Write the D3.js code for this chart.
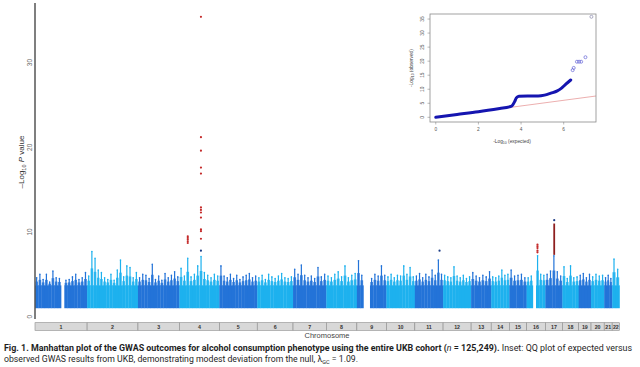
<!DOCTYPE html>
<html><head><meta charset="utf-8">
<script src="https://cdn.jsdelivr.net/npm/d3@7/dist/d3.min.js"></script>
<style>body{margin:0;background:#fff}svg{display:block}</style>
</head><body>
<svg id="chart" width="640" height="367"></svg>
<script>
// ---------------- DATA ----------------
const chromosomes = ["1","2","3","4","5","6","7","8","9","10","11","12","13","14","15","16","17","18","19","20","21","22"];
const chromSpanMb = [249,243,198,191,181,171,159,146,141,136,135,134,96,87,82,90,81,78,59,63,38,35];
const minLogP = 1.0;           // lowest plotted -log10 P
const baseLevel = 3.7;         // top of the dense SNP cloud
// upper envelope of the cloud, per chromosome, in equal bins along each chromosome (0 = no SNPs)
const chr1Tops  = [4.6,5.0,4.4,5.0,4.1,5.4,4.6,4.5,0,4.3,4.4,4.7,5.0,4.4,4.6,5.2];
const chr2Tops  = [4.8,7.7,6.9,5.5,5.2,4.6,4.4,5.0,4.3,5.5,6.7,4.7,6.0,5.8,4.6,5.2];
const chr3Tops  = [4.6,5.0,4.9,4.5,6.2,4.4,4.8,4.3,5.1,4.6,4.9,5.3,4.7];
const chr4Tops  = [5.7,4.8,6.9,4.7,5.0,6.0,7.1,5.2,4.9,4.6,5.0,4.8];
const chr5Tops  = [6.0,4.8,4.6,5.0,4.5,4.9,4.4,4.7,4.9,5.1,4.6,4.8];
const chr6Tops  = [4.6,4.9,4.4,5.0,4.7,4.5,4.8,5.1,4.6,4.5,4.7];
const chr7Tops  = [5.6,5.0,6.1,4.9,4.6,4.8,4.5,5.8,4.7,5.0];
const chr8Tops  = [4.8,4.6,5.0,5.3,4.7,6.0,4.6,4.9,5.1];
const chr9Tops  = [6.6,4.9,0,0,4.5,5.0,4.8,6.0,4.9];
const chr10Tops = [4.7,5.0,4.6,4.9,4.8,6.0,5.0,5.8,4.7];
const chr11Tops = [4.8,5.1,4.6,5.0,4.7,5.5,4.9,6.7,5.0];
const chr12Tops = [4.9,4.7,4.6,5.9,4.8,4.6,4.9,4.5,4.7];
const chr13Tops = [5.2,4.8,4.6,4.9,4.7,5.3];
const chr14Tops = [4.7,4.6,4.8,5.5,4.9,5.0];
const chr15Tops = [5.5,4.8,4.9,5.0,4.6];
const chr16Tops = [4.6,4.8,0,7.2,5.0,4.9];
const chr17Tops = [5.0,5.4,7.2,5.3,4.8];
const chr18Tops = [5.9,4.5,6.0,4.6,4.7];
const chr19Tops = [4.9,5.1,4.6,5.0];
const chr20Tops = [4.7,5.0,4.8,4.9];
const chr21Tops = [4.6,4.9,4.5];
const chr22Tops = [6.8,5.6];
const binTops = [chr1Tops,chr2Tops,chr3Tops,chr4Tops,chr5Tops,chr6Tops,chr7Tops,chr8Tops,chr9Tops,chr10Tops,chr11Tops,chr12Tops,chr13Tops,chr14Tops,chr15Tops,chr16Tops,chr17Tops,chr18Tops,chr19Tops,chr20Tops,chr21Tops,chr22Tops];

// genome-wide significant SNPs: [chromosome, position Mb, -log10 P]
const hitChrom = [4,4,4,4,4,4,4,4,4,4,4,4, 4,4,4,4,4, 16,16,16,16,16];
const hitPosMb = [103,103,103,103,103,103,103,103,103,103,103,103, 40,40,40,40,40, 52,52,52,52,52];
const hitLogP  = [35.4,21.2,19.6,17.6,16.9,12.9,12.6,12.3,11.7,10.3,10.1,9.2, 9.5,9.3,9.1,8.9,8.7, 8.5,8.3,8.1,7.8,7.6];
// dense significant column: [chromosome, position Mb, low, high]
const hitColumns = [[17,42,7.3,11.0]];
// lone top SNPs drawn in dark blue
const topChrom = [4,17,11];
const topPosMb = [103,42,118];
const topLogP  = [7.8,11.4,7.8];

const yTicks = [0,10,20,30];

// QQ inset
const qqExpected = [0,1,2,3,3.45,3.6,3.7,3.78,3.9,4.3,4.8,5.1,5.4,5.7,5.9,6.1,6.33];
const qqObserved = [0,1.0,2.0,3.15,3.7,4.3,5.6,6.9,7.5,7.6,7.6,7.9,8.6,9.4,10.4,11.8,13.3];
const qqOutExpected = [6.42,6.47,6.62,6.72,6.82,7.02,7.3];
const qqOutObserved = [16.8,17.6,19.8,19.8,19.8,21.4,35.8];
const qqXTicks = [0,2,4,6];
const qqYTicks = [0,5,10,15,20,25,30,35];

// ---------------- DRAW ----------------
const svg = d3.select("#chart");
const darkBlue = "#2373d8", lightBlue = "#1db1ee", red = "#c42a2a";

const offsets = d3.cumsum([0].concat(chromSpanMb.slice(0,-1)));
const totalMb = d3.sum(chromSpanMb);
const x = d3.scaleLinear().domain([0,totalMb]).range([35,619.5]);
const y = d3.scaleLinear().domain([0,37]).range([316.7,3.3]);
const gpos = (c,mb) => offsets[c-1]+mb;
const colorOf = i => i%2===0 ? darkBlue : lightBlue;

const cloud = svg.append("g");
binTops.forEach((tops,ci)=>{
  const n = tops.length, w = chromSpanMb[ci]/n, col = colorOf(ci);
  tops.forEach((t,bi)=>{
    if(!t) return;
    const x0 = x(offsets[ci]+bi*w), x1 = x(offsets[ci]+(bi+1)*w);
    cloud.append("rect").attr("x",x0).attr("width",x1-x0+0.3)
      .attr("y",y(baseLevel)).attr("height",y(minLogP)-y(baseLevel)).attr("fill",col);
    const xc = (x0+x1)/2, cw = 1.2;
    cloud.append("rect").attr("x",xc-cw/2).attr("width",cw)
      .attr("y",y(t)).attr("height",y(baseLevel)-y(t)+0.5).attr("fill",col);
    cloud.append("rect").attr("x",x0+0.3).attr("width",x1-x0-0.6)
      .attr("y",y((t+baseLevel)/2)).attr("height",y(baseLevel)-y((t+baseLevel)/2)+0.5).attr("fill",col).attr("opacity",0.85);
    cloud.append("circle").attr("cx",xc).attr("cy",y(t)).attr("r",0.8).attr("fill",col);
  });
});

// significant column
hitColumns.forEach(([c,mb,lo,hi])=>{
  svg.append("line").attr("x1",x(gpos(c,mb))).attr("x2",x(gpos(c,mb)))
    .attr("y1",y(lo)).attr("y2",y(hi)).attr("stroke","#8e1f1f").attr("stroke-width",1.8);
});
svg.append("g").selectAll("circle").data(hitLogP).join("circle")
  .attr("cx",(d,i)=>x(gpos(hitChrom[i],hitPosMb[i]))).attr("cy",d=>y(d))
  .attr("r",1.1).attr("fill",red);
svg.append("g").selectAll("circle").data(topLogP).join("circle")
  .attr("cx",(d,i)=>x(gpos(topChrom[i],topPosMb[i]))).attr("cy",d=>y(d))
  .attr("r",1.1).attr("fill","#1d3c86");

// y axis
svg.append("line").attr("x1",35).attr("x2",35).attr("y1",3).attr("y2",319)
  .attr("stroke","#555").attr("stroke-width",1.5);
svg.append("g").selectAll("text").data(yTicks).join("text")
  .attr("transform",d=>`translate(31.5,${y(d)}) rotate(-90)`)
  .attr("text-anchor","middle").attr("font-family","Liberation Sans, Arial, sans-serif")
  .attr("font-size",6.5).attr("fill","#666").text(d=>d);
const yl = svg.append("text").attr("transform","translate(24,162) rotate(-90)")
  .attr("text-anchor","middle").attr("font-family","Liberation Sans, Arial, sans-serif")
  .attr("font-size",8).attr("fill","#333");
yl.append("tspan").text("\u2013Log");
yl.append("tspan").attr("font-size",5.5).attr("dy",2).text("10");
yl.append("tspan").attr("dy",-2).text(" ");
yl.append("tspan").attr("font-style","italic").text("P");
yl.append("tspan").text(" value");

// chromosome band
const band = svg.append("g");
chromosomes.forEach((c,i)=>{
  const x0 = x(offsets[i]), x1 = x(offsets[i]+chromSpanMb[i]);
  band.append("rect").attr("x",x0).attr("y",322.7).attr("width",x1-x0).attr("height",7.6)
    .attr("fill","#d8d8d8").attr("stroke","#8a8a8a").attr("stroke-width",0.6);
  band.append("text").attr("x",(x0+x1)/2).attr("y",328.9).attr("text-anchor","middle")
    .attr("font-family","Liberation Sans, Arial, sans-serif").attr("font-size",5.3)
    .attr("font-weight","bold").attr("fill","#333").text(c);
});
svg.append("text").attr("x",327).attr("y",338).attr("text-anchor","middle")
  .attr("font-family","Liberation Sans, Arial, sans-serif").attr("font-size",7.5)
  .attr("fill","#444").text("Chromosome");

// ---------------- QQ inset ----------------
const qx = d3.scaleLinear().domain([-0.27,7.515]).range([430,596]);
const qy = d3.scaleLinear().domain([-1.67,36.8]).range([122,14]);
const inset = svg.append("g");
inset.append("line").attr("x1",qx(0)).attr("y1",qy(0)).attr("x2",qx(7.515)).attr("y2",qy(7.515*1.01))
  .attr("stroke","#e79a9a").attr("stroke-width",0.8);
inset.append("path").datum(qqExpected.map((e,i)=>[e,qqObserved[i]]))
  .attr("d",d3.line().x(d=>qx(d[0])).y(d=>qy(d[1])).curve(d3.curveMonotoneX))
  .attr("fill","none").attr("stroke","#1515b0").attr("stroke-width",3).attr("stroke-linecap","round");
inset.append("g").selectAll("circle").data(qqOutObserved).join("circle")
  .attr("cx",(d,i)=>qx(qqOutExpected[i])).attr("cy",d=>qy(d)).attr("r",1.5)
  .attr("fill","none").attr("stroke",(d,i)=>i===qqOutObserved.length-1?"#8888aa":"#6262d6").attr("stroke-width",0.7);
inset.append("rect").attr("x",430).attr("y",14).attr("width",166).attr("height",108)
  .attr("fill","none").attr("stroke","#8a8a8a").attr("stroke-width",0.8);
inset.append("g").selectAll("line").data(qqXTicks).join("line")
  .attr("x1",d=>qx(d)).attr("x2",d=>qx(d)).attr("y1",122).attr("y2",124.5).attr("stroke","#777").attr("stroke-width",0.5);
inset.append("g").selectAll("text").data(qqXTicks).join("text")
  .attr("x",d=>qx(d)).attr("y",131).attr("text-anchor","middle")
  .attr("font-family","Liberation Sans, Arial, sans-serif").attr("font-size",4.8).attr("fill","#555").text(d=>d);
inset.append("g").selectAll("line").data(qqYTicks).join("line")
  .attr("x1",427.5).attr("x2",430).attr("y1",d=>qy(d)).attr("y2",d=>qy(d)).attr("stroke","#777").attr("stroke-width",0.5);
inset.append("g").selectAll("text").data(qqYTicks).join("text")
  .attr("transform",d=>`translate(423.5,${qy(d)}) rotate(-90)`).attr("text-anchor","middle")
  .attr("font-family","Liberation Sans, Arial, sans-serif").attr("font-size",4.8).attr("fill","#555").text(d=>d);
function qqLabel(t,tr){
  const el = inset.append("text").attr("transform",tr).attr("text-anchor","middle")
    .attr("font-family","Liberation Sans, Arial, sans-serif").attr("font-size",4.8).attr("fill","#444");
  el.append("tspan").text("-Log");
  el.append("tspan").attr("font-size",3.5).attr("dy",1.2).text("10");
  el.append("tspan").attr("dy",-1.2).text(" "+t);
}
qqLabel("(observed)","translate(413,68) rotate(-90)");
qqLabel("(expected)","translate(512,143)");

// ---------------- caption ----------------
const cap1 = svg.append("text").attr("x",4).attr("y",350.5)
  .attr("font-family","Roboto, 'Open Sans', sans-serif").attr("font-size",8.6).attr("fill","#1e1e1e")
  .attr("textLength",628).attr("lengthAdjust","spacingAndGlyphs");
cap1.append("tspan").attr("font-weight","bold").text("Fig. 1. Manhattan plot of the GWAS outcomes for alcohol consumption phenotype using the entire UKB cohort (");
cap1.append("tspan").attr("font-style","italic").text("n");
cap1.append("tspan").attr("font-weight","bold").text(" = 125,249).");
cap1.append("tspan").text(" Inset: QQ plot of expected versus");
const cap2 = svg.append("text").attr("x",4).attr("y",362)
  .attr("font-family","Roboto, 'Open Sans', sans-serif").attr("font-size",8.6).attr("fill","#1e1e1e")
  .attr("textLength",354).attr("lengthAdjust","spacingAndGlyphs");
cap2.append("tspan").text("observed GWAS results from UKB, demonstrating modest deviation from the null, \u03bb");
cap2.append("tspan").attr("font-size",5.5).attr("dy",1.8).text("GC");
cap2.append("tspan").attr("dy",-1.8).text(" = 1.09.");
</script>
</body></html>
